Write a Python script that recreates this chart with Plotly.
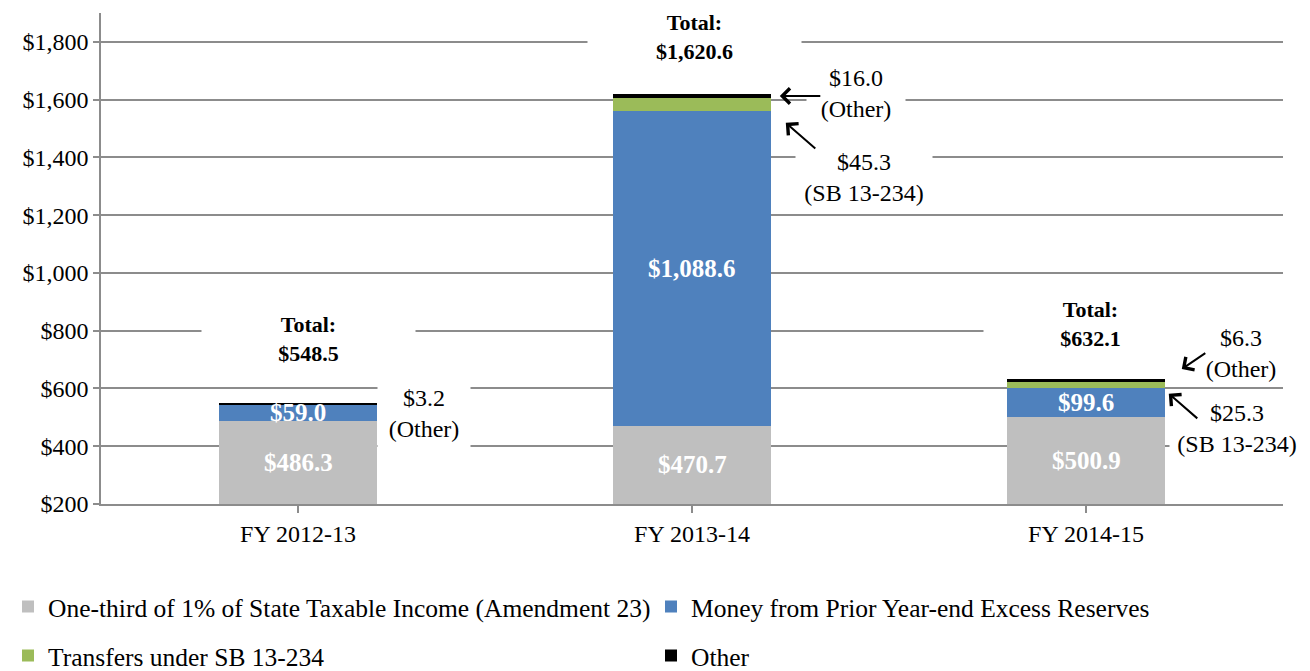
import plotly.graph_objects as go

# ---------------- data ----------------
categories = ["FY 2012-13", "FY 2013-14", "FY 2014-15"]
amendment23 = [486.3, 470.7, 500.9]
excess_reserves = [59.0, 1088.6, 99.6]
sb13_234 = [0.0, 45.3, 25.3]
other = [3.2, 16.0, 6.3]

series_names = [
    "One-third of 1% of State Taxable Income (Amendment 23)",
    "Money from Prior Year-end Excess Reserves",
    "Transfers under SB 13-234",
    "Other",
]
series_colors = ["#BFBFBF", "#4F81BD", "#9BBB59", "#000000"]
y_tick_vals = [200, 400, 600, 800, 1000, 1200, 1400, 1600, 1800]
y_tick_text = ["$200", "$400", "$600", "$800", "$1,000", "$1,200", "$1,400", "$1,600", "$1,800"]

FONT = "Liberation Serif"
AX_MIN, AX_MAX = 200, 1900
PAGE_OFF = 8  # the page body adds an 8px margin around the figure

series = [amendment23, excess_reserves, sb13_234, other]
legend_ids = ["legend", "legend2", "legend3", "legend4"]
totals = [round(sum(v), 1) for v in zip(*series)]

fig = go.Figure()
x_idx = list(range(len(categories)))
for vals, name, col, lg in zip(series, series_names, series_colors, legend_ids):
    fig.add_trace(go.Bar(
        x=x_idx, y=vals, name=name, marker=dict(color=col, line=dict(width=0)),
        width=0.4, legend=lg, hoverinfo="name+y",
    ))

annotations = []
# segment labels (white, bold) centred on the visible part of the segment
for si in (0, 1):
    for i in x_idx:
        base = sum(series[k][i] for k in range(si))
        top = base + series[si][i]
        mid = (max(base, AX_MIN) + top) / 2
        annotations.append(dict(
            x=i, y=mid, xref="x", yref="y", text=f"<b>${series[si][i]:,.1f}</b>",
            showarrow=False, font=dict(family=FONT, size=25, color="white"),
        ))

# totals
tot_xshift = [10, 2, 4]
tot_yshift = [64, 57, 55]
for i in x_idx:
    annotations.append(dict(
        x=i, y=totals[i], xref="x", yref="y",
        text=f"<b>Total:</b><br><b>${totals[i]:,.1f}</b>",
        showarrow=False, font=dict(family=FONT, size=22, color="black"),
        bgcolor="white", width=213, borderpad=0,
        xshift=tot_xshift[i], yshift=tot_yshift[i],
    ))

# callout texts
callouts = [
    (0.32, 512, f"${other[0]:,.1f}<br>(Other)", 80, 6),
    (1.416, 1620, f"${other[1]:,.1f}<br>(Other)", 82, 8),
    (1.437, 1332, f"${sb13_234[1]:,.1f}<br>(SB 13-234)", 126, 5),
    (2.393, 719.5, f"${other[2]:,.1f}<br>(Other)", 82, 3),
    (2.383, 463, f"${sb13_234[2]:,.1f}<br>(SB 13-234)", 126, 4),
]
for x, y, txt, w, pad in callouts:
    annotations.append(dict(
        x=x, y=y, xref="x", yref="y", text=txt, showarrow=False,
        font=dict(family=FONT, size=24, color="black"),
        bgcolor="white", width=w, borderpad=pad,
    ))

# arrows: (bar index, segment index, xshift, yshift, ax, ay)
arrows = [
    (1, 3, 9, 0, 42, 0),
    (1, 2, 15, -18, 31, 27),
    (2, 3, 17, 11, 25, -17),
    (2, 2, 4, -9, 30, 26),
]
for i, si, xs, ys, ax, ay in arrows:
    base = sum(series[k][i] for k in range(si))
    mid = base + series[si][i] / 2
    annotations.append(dict(
        x=i + 0.2, y=mid, xref="x", yref="y", text="", showarrow=True,
        arrowhead=4, arrowsize=1.5, arrowwidth=2, arrowcolor="black",
        ax=ax, ay=ay, xshift=xs, yshift=ys, standoff=0,
    ))

grid_col = "#8C8C8C"
LEG_FONT = dict(family=FONT, size=25.5, color="black")
W, H = 1310, 671


def legend_box(x_px, y_px):
    # x_px / y_px: wanted on-screen position (marker left edge / row centre)
    return dict(
        orientation="h", xref="container", yref="container",
        x=max(0.0, (x_px - 17 - PAGE_OFF) / W), y=1 - (y_px - PAGE_OFF - 2) / H,
        xanchor="left", yanchor="middle",
        font=LEG_FONT, bgcolor="rgba(0,0,0,0)", borderwidth=0,
    )


fig.update_layout(
    width=W, height=H,
    margin=dict(l=101 - PAGE_OFF, r=27 + PAGE_OFF, t=13 - PAGE_OFF,
                b=167 + PAGE_OFF, autoexpand=False),
    paper_bgcolor="white", plot_bgcolor="white",
    barmode="stack", bargap=0.6,
    font=dict(family=FONT, size=24, color="black"),
    xaxis=dict(
        tickmode="array", tickvals=x_idx, ticktext=categories,
        range=[-0.5, 2.5], showline=True, linecolor=grid_col, linewidth=1.5,
        ticks="outside", tickson="boundaries", ticklen=7, tickcolor=grid_col, tickwidth=1.5,
        tickfont=dict(family=FONT, size=24, color="black"), showgrid=False,
        zeroline=False, automargin=False,
    ),
    yaxis=dict(
        range=[AX_MIN, AX_MAX], tickmode="array", tickvals=y_tick_vals, ticktext=y_tick_text,
        showline=True, linecolor=grid_col, linewidth=1.5,
        ticks="outside", ticklen=6, tickcolor=grid_col, tickwidth=1.5,
        showgrid=True, gridcolor=grid_col, gridwidth=1.5, zeroline=False,
        tickfont=dict(family=FONT, size=24, color="black"), automargin=False,
    ),
    legend=legend_box(15, 609),
    legend2=legend_box(668, 609),
    legend3=legend_box(15, 658),
    legend4=legend_box(668, 658),
    annotations=annotations,
    showlegend=True,
)

fig.write_html("out.html")
